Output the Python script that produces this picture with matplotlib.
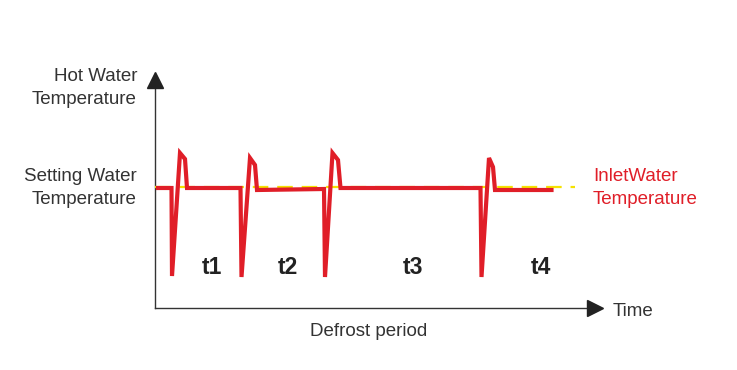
import numpy as np
from matplotlib import pyplot as plt

# time / temperature of the inlet water curve (arbitrary units)
t_inlet = [3, 16.5, 17, 25, 30, 32, 85.5, 86.5, 95, 100, 102, 169, 170, 177.5, 183, 185.5,
           325.5, 326.5, 334, 338, 340, 396.5]
temp_inlet = [120, 120, 32, 155, 149, 120, 120, 31, 150, 143, 118, 119, 31, 155, 148, 120,
              120, 31, 150, 141, 118, 118]

t_setting = [0, 420]
temp_setting = [121, 121]

period_labels = ['t1', 't2', 't3', 't4']
period_pos = [57, 133, 258, 386]

W, H = 737, 370
fig = plt.figure(figsize=(W / 100, H / 100), dpi=100)
plt.rcParams['font.family'] = ['Liberation Sans', 'DejaVu Sans']

# axes with origin at the arrow corner
ox, oy = 155, 308
xmax, ymax = 448, 236
ax = fig.add_axes([ox / W, 1 - oy / H, xmax / W, ymax / H])
ax.set_xlim(0, xmax)
ax.set_ylim(0, ymax)
ax.axis('off')

axis_col = '#333333'
ax.plot([0, 0], [0, ymax - 12], color=axis_col, lw=1.0, clip_on=False)
ax.plot([0, xmax - 14], [0, 0], color=axis_col, lw=1.0, clip_on=False)
ax.plot([0], [ymax - 7.5], marker='^', ms=11, color='#222222', clip_on=False)
ax.plot([xmax - 8.5], [0], marker='>', ms=12, color='#222222', clip_on=False)

ax.plot(t_setting, temp_setting, color='#f5e200', lw=1.6, dashes=(7, 4), clip_on=False)
ax.plot(t_inlet, temp_inlet, color='#e01e28', lw=3.0, solid_joinstyle='miter', clip_on=False)

for lab, x in zip(period_labels, period_pos):
    ax.text(x, 41, lab, fontsize=16.5, fontweight='bold', color='#222222', ha='center', va='center')

def px(x, y):
    return x / W, 1 - y / H

txt = '#333333'
fs = 13.5
ls = 1.45
fig.text(*px(137, 88), 'Hot Water\nTemperature', fontsize=fs, color=txt, ha='right', va='center',
         linespacing=ls)
fig.text(*px(137, 188), 'Setting Water\nTemperature', fontsize=fs, color=txt, ha='right', va='center',
         linespacing=ls)
fig.text(*px(593, 188), 'InletWater\nTemperature', fontsize=fs, color='#e01e28', ha='left', va='center',
         linespacing=ls)
fig.text(*px(613, 311), 'Time', fontsize=fs, color=txt, ha='left', va='center')
fig.text(*px(369, 332), 'Defrost period', fontsize=fs, color=txt, ha='center', va='center')

fig.savefig('out.png', dpi=100)
